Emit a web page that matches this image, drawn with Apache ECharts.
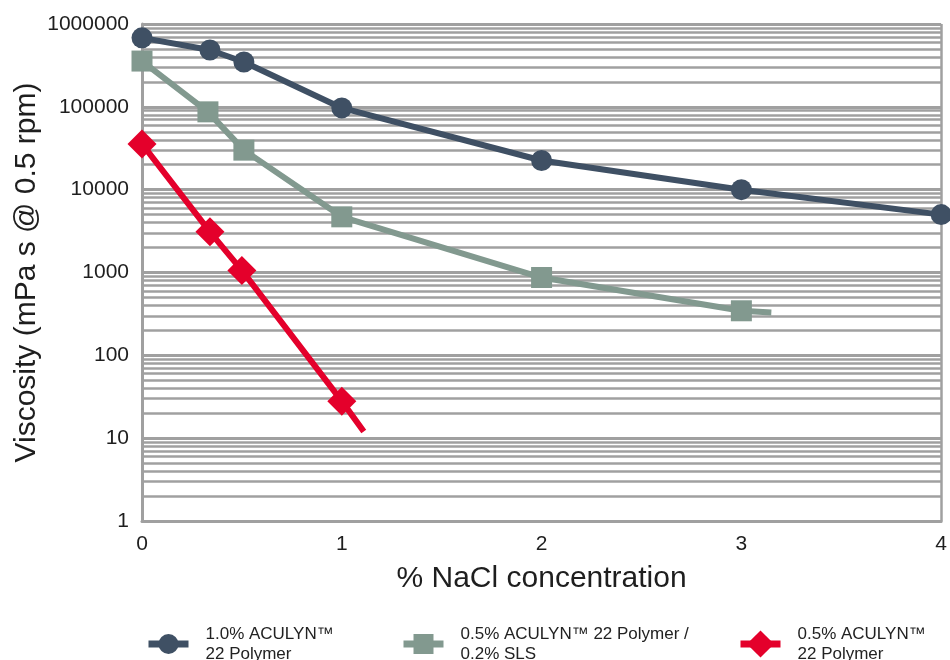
<!DOCTYPE html>
<html><head><meta charset="utf-8">
<script src="https://cdn.jsdelivr.net/npm/echarts@6/dist/echarts.min.js"></script>
<style>html,body{margin:0;padding:0;background:#fff}#c{width:950px;height:660px}</style>
</head><body><div id="c"></div>
<script>
const seriesNames = ['1.0% ACULYN™\n22 Polymer', '0.5% ACULYN™ 22 Polymer /\n0.2% SLS', '0.5% ACULYN™\n22 Polymer'];
const nacl1 = [0, 0.34, 0.51, 1, 2, 3, 4];
const visc1 = [680000, 485000, 348000, 97000, 22500, 10000, 5000];
const nacl2 = [0, 0.33, 0.51, 1, 2, 3, 3.15];
const visc2 = [357000, 87000, 30000, 4700, 870, 345, 330];
const nacl3 = [0, 0.34, 0.5, 1, 1.11];
const visc3 = [35700, 3100, 1060, 28, 12];
const markerCount = [7, 6, 4];
const xTicks = [0, 1, 2, 3, 4];
const yTicks = [1, 10, 100, 1000, 10000, 100000, 1000000];
const colors = ['#3f5064', '#82998f', '#e4002b'];
const symbols = ['circle', 'rect', 'diamond'];
const symbolSizes = [21, 21, 29];

const minorVals = [];
for (let d = 0; d < 6; d++) for (let m = 2; m <= 9; m++) minorVals.push(m * Math.pow(10, d));

function pts(xs, ys, n) {
  return xs.map((x, i) => i < n ? [x, ys[i]] : { value: [x, ys[i]], symbol: 'none' });
}
const data = [pts(nacl1, visc1, markerCount[0]), pts(nacl2, visc2, markerCount[1]), pts(nacl3, visc3, markerCount[2])];

const chart = echarts.init(document.getElementById('c'), null, { renderer: 'canvas' });
const font = '"Liberation Sans", Arial, Helvetica, sans-serif';
const series = [{
  name: 'grid', type: 'line', data: [[0, 1]], symbol: 'none', lineStyle: { opacity: 0 }, z: 0, silent: true,
  markLine: {
    silent: true, z: 0, symbol: ['none', 'none'], label: { show: false }, animation: false,
    lineStyle: { color: '#a0a0a0', width: 2.5, type: 'solid' },
    emphasis: { disabled: true },
    data: minorVals.map(v => ({ yAxis: v })).concat([{ xAxis: 4 }])
  }
}];
for (let i = 0; i < 3; i++) {
  series.push({
    name: seriesNames[i], type: 'line', data: data[i], z: 3 + i,
    symbol: symbols[i], symbolSize: symbolSizes[i],
    itemStyle: { color: colors[i] },
    lineStyle: { color: colors[i], width: 6 },
    animation: false
  });
}
const legendPos = [145, 400, 737];
const legendIconH = [25, 25, 34];
chart.setOption({
  animation: false,
  textStyle: { fontFamily: font },
  grid: { left: 142, right: 7, top: 24, bottom: 139, containLabel: false },
  xAxis: {
    type: 'value', min: 0, max: 4, interval: 1,
    name: '% NaCl concentration', nameLocation: 'middle', nameGap: 43,
    nameTextStyle: { fontSize: 30, color: '#1e1e1e', fontFamily: font },
    axisLine: { show: true, lineStyle: { color: '#a0a0a0', width: 3 } },
    axisTick: { show: false },
    splitLine: { show: false },
    axisLabel: { fontSize: 21, color: '#1e1e1e', margin: 13, fontFamily: font,
      customValues: xTicks, formatter: v => String(v) }
  },
  yAxis: {
    type: 'log', logBase: 10, min: 1, max: 1000000,
    name: 'Viscosity (mPa s @ 0.5 rpm)', nameLocation: 'middle', nameGap: 100,
    nameMoveOverlap: false,
    nameTextStyle: { fontSize: 30, color: '#1e1e1e', fontFamily: font },
    axisLine: { show: true, lineStyle: { color: '#a0a0a0', width: 3 } },
    axisTick: { show: false },
    splitLine: { show: true, lineStyle: { color: '#a0a0a0', width: 3 } },
    axisLabel: { fontSize: 21, color: '#1e1e1e', margin: 13, fontFamily: font,
      formatter: v => String(Math.round(v)) }
  },
  legend: seriesNames.map((n, i) => ({
    data: [n], left: legendPos[i] - 5, top: 619, itemWidth: 40, itemHeight: legendIconH[i], itemGap: 18,
    padding: 5,
    lineStyle: { width: 7 },
    textStyle: { fontSize: 17, color: '#222', fontFamily: font, lineHeight: 20, padding: [0, 0, 0, 12] },
    selectedMode: false
  })),
  series: series
});
</script></body></html>
